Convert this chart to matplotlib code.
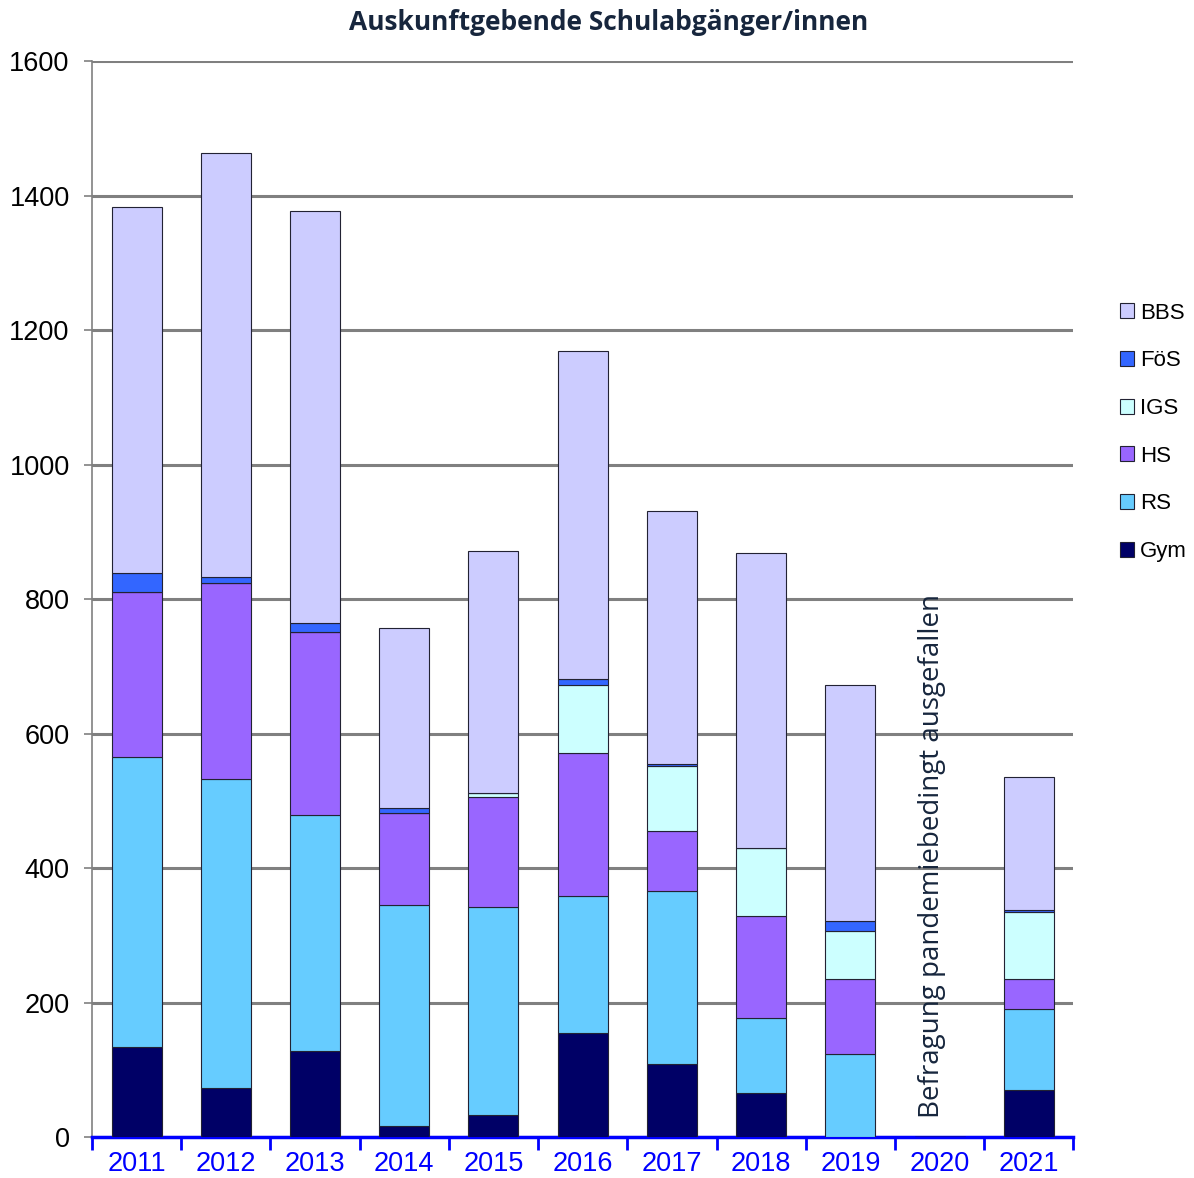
import numpy as np
import matplotlib.pyplot as plt

# Data
years = ["2011", "2012", "2013", "2014", "2015", "2016", "2017", "2018", "2019", "2020", "2021"]
gym = [134, 73, 128, 16, 33, 155, 109, 65, 0, 0, 70]
rs = [431, 459, 351, 329, 309, 203, 257, 112, 123, 0, 120]
hs = [245, 292, 272, 137, 164, 213, 89, 152, 112, 0, 45]
igs = [0, 0, 0, 0, 6, 101, 97, 101, 71, 0, 100]
foes = [29, 9, 13, 7, 0, 9, 3, 0, 15, 0, 3]
bbs = [544, 630, 613, 268, 359, 488, 376, 438, 351, 0, 197]

series = [("Gym", gym, "#000066"), ("RS", rs, "#66CCFF"), ("HS", hs, "#9966FF"),
          ("IGS", igs, "#CCFFFF"), ("FöS", foes, "#3366FF"), ("BBS", bbs, "#CCCCFF")]

fig = plt.figure(figsize=(11.94, 11.78), dpi=100)
ax = fig.add_axes([0.077, 0.0348, 0.822, 0.9132])

x = np.arange(len(years))
bottom = np.zeros(len(years))
handles = {}
for name, vals, color in series:
    vals = np.array(vals, dtype=float)
    bars = ax.bar(x, vals, width=0.56, bottom=bottom, color=color,
                  edgecolor="#222233", linewidth=0.8, zorder=3)
    handles[name] = bars
    bottom += vals

ax.set_ylim(0, 1600)
ax.set_xlim(-0.5, len(years) - 0.5)
ax.set_yticks(range(0, 1601, 200))
ax.yaxis.grid(True, color="#808080", linewidth=2.2, zorder=0)
ax.set_axisbelow(True)

# x axis: ticks at category boundaries, labels centred
ax.set_xticks(np.arange(-0.5, len(years)), minor=False)
ax.set_xticklabels([])
ax.set_xticks(x, minor=True)
ax.set_xticklabels(years, minor=True)
ax.tick_params(axis="x", which="major", direction="out", length=9, width=2, color="#0000FF")
ax.tick_params(axis="x", which="minor", length=0, labelsize=19.5, labelcolor="#0000FF", pad=10)
ax.tick_params(axis="y", direction="out", length=6, width=1.2, color="#808080", labelsize=19.5, pad=10)

for s in ["top", "right"]:
    ax.spines[s].set_visible(False)
ax.spines["left"].set_color("#808080")
ax.spines["left"].set_linewidth(1.2)
ax.spines["bottom"].set_color("#0000FF")
ax.spines["bottom"].set_linewidth(2.5)

for lab in ax.get_yticklabels() + ax.get_xticklabels(minor=True):
    lab.set_family("Liberation Sans")

ax.text(8.92, 28, "Befragung pandemiebedingt ausgefallen", rotation=90,
        ha="center", va="bottom", fontsize=20, color="#17263D", family="Open Sans",
        zorder=4)

fig.text(0.51, 0.981, "Auskunftgebende Schulabgänger/innen", ha="center", va="center",
         fontsize=19, fontweight="bold", color="#17263D", family="Open Sans")

order = ["BBS", "FöS", "IGS", "HS", "RS", "Gym"]
leg = fig.legend([handles[n] for n in order], order, loc="center left",
                 bbox_to_anchor=(0.921, 0.633), frameon=False,
                 prop={"family": "Liberation Sans", "size": 16},
                 handlelength=0.65, handleheight=0.65, handletextpad=0.25,
                 labelspacing=1.2)

fig.savefig("out.png", dpi=100)
